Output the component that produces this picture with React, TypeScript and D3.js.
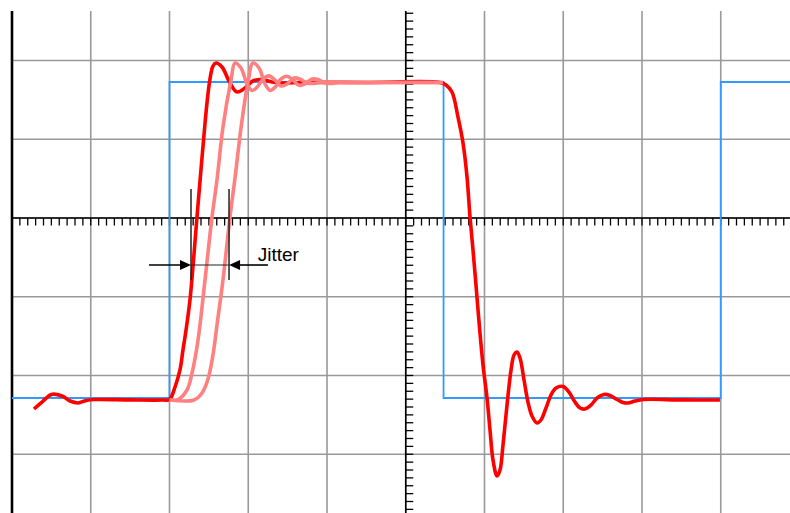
import { useEffect, useRef } from "react";
import * as d3 from "d3";

const WIDTH = 790;
const HEIGHT = 513;

// time and level are both in minor divisions (10 minor per grid square)
const squareWave = [
  [0, -22.86],
  [20, 17.27],
  [54.8, -22.86],
  [90, 17.27],
  [100, 17.27],
];

// fastest edge (dark red), incl. tail of the previous falling edge
const mainTrace = [
  [2.79, -24.25], [3.94, -23.24], [5.0, -22.4], [6.35, -22.6], [7.37, -23.24],
  [8.38, -23.49], [9.4, -23.17], [10.54, -23.05], [15.0, -23.1], [19.2, -23.11], [20.0, -23.05],
  [20.7, -21.46], [21.33, -19.3], [21.71, -16.76], [22.1, -14.22], [22.6, -10.41],
  [23.05, -5.33], [23.49, 0.13], [23.94, 5.46], [24.38, 10.54], [24.76, 14.6],
  [25.14, 17.65], [25.52, 19.3], [25.9, 19.68], [26.67, 19.17], [27.68, 17.14],
  [28.57, 16.0], [29.59, 16.51], [30.6, 17.4], [31.75, 17.59], [33.02, 17.27],
  [34.67, 17.14], [36.57, 17.21], [45.0, 17.21], [54.35, 17.21],
  [55.11, 16.89], [55.87, 16.0], [56.63, 12.83], [57.27, 9.52], [57.78, 5.21],
  [58.16, 0.13], [58.54, -4.06], [58.92, -8.51], [59.37, -13.97], [59.81, -18.67],
  [60.32, -22.86], [60.7, -26.92], [61.08, -30.73], [61.59, -32.76], [61.97, -32.0],
  [62.35, -28.83], [62.86, -23.75], [63.37, -19.3], [63.75, -17.4], [64.13, -17.02],
  [64.51, -17.78], [65.02, -20.57], [65.52, -23.37], [66.03, -25.14], [66.67, -26.03],
  [67.17, -25.65], [67.81, -24.13], [68.44, -22.48], [69.08, -21.59], [69.97, -21.4],
  [70.73, -22.1], [71.49, -23.37], [72.13, -24.13], [72.76, -24.25], [73.52, -23.75],
  [74.29, -22.86], [75.17, -22.41], [75.94, -22.54], [76.83, -23.05], [77.59, -23.43],
  [78.22, -23.49], [79.11, -23.24], [80.13, -23.05], [85.0, -23.1], [89.9, -23.11],
];

// delayed edges (light red)
const jitterTraceA = [
  [20.0, -23.11], [21.08, -23.05], [22.22, -21.84], [22.86, -19.68], [23.49, -16.38],
  [23.87, -13.59], [24.51, -7.87], [25.4, 0.13], [26.03, 4.83], [26.79, 11.56],
  [27.81, 17.52], [28.32, 19.68], [29.08, 19.05], [29.84, 17.02], [30.48, 16.2],
  [31.11, 16.6], [31.87, 17.65], [32.63, 18.05], [33.4, 17.52], [34.16, 16.76],
  [34.92, 17.02], [35.81, 17.78], [36.57, 17.65], [37.46, 17.14], [38.35, 17.08],
  [39.37, 17.27], [41.02, 17.21], [48.0, 17.21], [54.73, 17.21],
];

const jitterTraceB = [
  [20.0, -23.11], [23.11, -23.11], [24.13, -22.22], [24.89, -20.44], [25.52, -17.4],
  [26.03, -13.59], [26.79, -7.87], [27.68, 0.13], [28.32, 5.08], [29.08, 11.43],
  [29.97, 17.27], [30.6, 19.68], [31.37, 19.05], [32.13, 17.02], [32.76, 16.2],
  [33.4, 16.6], [34.16, 17.65], [34.92, 18.0], [35.68, 17.52], [36.44, 16.85],
  [37.21, 17.02], [38.1, 17.65], [38.86, 17.59], [39.75, 17.14], [40.63, 17.08],
  [41.65, 17.27], [43.17, 17.21], [49.0, 17.21], [54.73, 17.21],
];

const gridX = [10, 20, 30, 40, 50, 60, 70, 80, 90];
const gridY = [-30, -20, -10, 0, 10, 20];

// jitter marker
const jitterEdges = [22.73, 27.56];
const jitterSpan = [3.68, -7.87];
const jitterArrow = { y: -5.97, from: [17.4, 32.5] };
const jitterLabel = { x: 31.2, y: -5.5, text: "Jitter" };

const App = () => {
  const ref = useRef<SVGSVGElement>(null);

  useEffect(() => {
    const svg = d3.select(ref.current);
    svg.selectAll("*").remove();

    const x = d3.scaleLinear().domain([0, 100]).range([12, 799.5]);
    const y = d3.scaleLinear().domain([-10, 10]).range([296.75, 139.25]);
    const top = 11;
    const bottom = HEIGHT;
    const tMin = y.invert(bottom);
    const tMax = y.invert(top);

    // grid
    const grid = svg.append("g").attr("stroke", "#999").attr("stroke-width", 1.6);
    grid.selectAll("line.v").data(gridX).enter().append("line")
      .attr("x1", (d) => x(d)).attr("x2", (d) => x(d))
      .attr("y1", top).attr("y2", bottom);
    grid.selectAll("line.h").data(gridY).enter().append("line")
      .attr("x1", x(0)).attr("x2", WIDTH)
      .attr("y1", (d) => y(d)).attr("y2", (d) => y(d));

    // axes with minor ticks
    const axes = svg.append("g").attr("stroke", "#000");
    axes.append("line")
      .attr("x1", x(0)).attr("x2", x(0)).attr("y1", top).attr("y2", bottom)
      .attr("stroke-width", 2.6);
    axes.append("line")
      .attr("x1", x(50)).attr("x2", x(50)).attr("y1", top).attr("y2", bottom)
      .attr("stroke-width", 1.6);
    axes.append("line")
      .attr("x1", x(0)).attr("x2", WIDTH).attr("y1", y(0)).attr("y2", y(0))
      .attr("stroke-width", 1.6);
    axes.selectAll("line.ty").data(d3.range(Math.ceil(tMin), Math.floor(tMax) + 1)).enter()
      .append("line")
      .attr("x1", x(50)).attr("x2", x(50) + 7.5)
      .attr("y1", (d) => y(d)).attr("y2", (d) => y(d))
      .attr("stroke-width", 1.3);
    axes.selectAll("line.tx").data(d3.range(1, 100)).enter()
      .append("line")
      .attr("x1", (d) => x(d)).attr("x2", (d) => x(d))
      .attr("y1", y(0)).attr("y2", y(0) + 7.5)
      .attr("stroke-width", 1.3);

    // traces
    const step = d3.line().x((d) => x(d[0])).y((d) => y(d[1])).curve(d3.curveStepAfter);
    const smooth = d3.line().x((d) => x(d[0])).y((d) => y(d[1])).curve(d3.curveCatmullRom.alpha(0.5));

    svg.append("path").datum(squareWave).attr("d", step)
      .attr("fill", "none").attr("stroke", "#3399ff").attr("stroke-width", 1.8);

    svg.append("path").datum(mainTrace).attr("d", smooth)
      .attr("fill", "none").attr("stroke", "#ff0000").attr("stroke-width", 3.6)
      .attr("stroke-linejoin", "round");

    [jitterTraceA, jitterTraceB].forEach((tr) => {
      svg.append("path").datum(tr).attr("d", smooth)
        .attr("fill", "none").attr("stroke", "#ff8080").attr("stroke-width", 3.6)
        .attr("stroke-linejoin", "round");
    });

    // jitter annotation
    const ann = svg.append("g").attr("stroke", "#222");
    ann.selectAll("line.edge").data(jitterEdges).enter().append("line")
      .attr("x1", (d) => x(d)).attr("x2", (d) => x(d))
      .attr("y1", y(jitterSpan[0])).attr("y2", y(jitterSpan[1]))
      .attr("stroke-width", 1.5);
    ann.append("line")
      .attr("x1", x(jitterEdges[0])).attr("x2", x(jitterEdges[1]))
      .attr("y1", y(jitterArrow.y)).attr("y2", y(jitterArrow.y))
      .attr("stroke-width", 1);
    const ay = y(jitterArrow.y);
    jitterEdges.forEach((e, i) => {
      const tip = x(e);
      const dir = i === 0 ? -1 : 1;
      ann.append("line")
        .attr("x1", x(jitterArrow.from[i])).attr("x2", tip + dir * 8)
        .attr("y1", ay).attr("y2", ay)
        .attr("stroke", "#000").attr("stroke-width", 1.6);
      ann.append("path")
        .attr("d", `M${tip},${ay}L${tip + dir * 11},${ay - 5}L${tip + dir * 11},${ay + 5}Z`)
        .attr("fill", "#000").attr("stroke", "none");
    });

    svg.append("text")
      .attr("x", x(jitterLabel.x)).attr("y", y(jitterLabel.y))
      .attr("font-family", "Liberation Sans, Arial, sans-serif")
      .attr("font-size", 19)
      .attr("fill", "#000")
      .text(jitterLabel.text);
  }, []);

  return (
    <svg
      ref={ref}
      width={WIDTH}
      height={HEIGHT}
      style={{ position: "absolute", left: 0, top: 0, background: "#fff" }}
    />
  );
};

export default App;
